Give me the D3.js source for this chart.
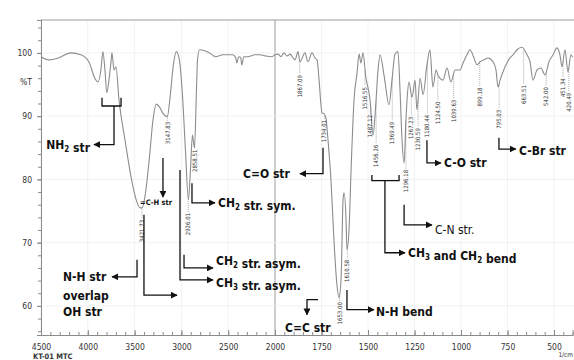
<!DOCTYPE html>
<html>
<head>
<meta charset="utf-8">
<script src="https://cdn.jsdelivr.net/npm/d3@7"></script>
<style>
body { margin: 0; background: #fff; }
svg { display: block; }
.axis path, .axis line { stroke: #8a8a8a; }
.axis text { font-family: 'Liberation Sans Narrow', 'DejaVu Sans Condensed', sans-serif; font-size: 8.5px; fill: #333; }
.note { font-family: 'Liberation Sans Narrow', 'DejaVu Sans Condensed', sans-serif; font-weight: bold; font-size: 12px; fill: #111; }
.peak { font-family: 'Liberation Sans Narrow', 'DejaVu Sans Condensed', sans-serif; font-size: 6px; fill: #333; }
</style>
</head>
<body>
<div id="chart"></div>
<script>
// spectrum (cm-1 / %T)
const wavenumbers = [
  4500, 4419, 4312, 4183, 4075, 3989, 3925, 3892, 3860, 3839,
  3817, 3797, 3774, 3750, 3742, 3720, 3699, 3667, 3602, 3538,
  3484, 3441, 3419, 3387, 3344, 3301, 3269, 3237, 3194, 3151,
  3118, 3086, 3054, 3022, 2989, 2957, 2925, 2903, 2882, 2860,
  2839, 2828, 2806, 2699, 2634, 2559, 2452, 2419, 2409, 2387,
  2366, 2355, 2333, 2290, 2215, 2161, 2097, 2032, 2000, 1984,
  1968, 1952, 1935, 1919, 1903, 1892, 1876, 1866, 1839, 1823,
  1801, 1785, 1774, 1763, 1753, 1747, 1737, 1726, 1715, 1699,
  1683, 1667, 1656, 1645, 1634, 1629, 1618, 1613, 1602, 1591,
  1575, 1559, 1548, 1538, 1527, 1511, 1500, 1489, 1473, 1462,
  1446, 1435, 1414, 1387, 1371, 1355, 1339, 1328, 1317, 1306,
  1296, 1290, 1280, 1263, 1247, 1237, 1220, 1204, 1183, 1167,
  1151, 1134, 1124, 1097, 1075, 1054, 1032, 1005, 989, 968,
  952, 930, 914, 898, 876, 855, 828, 812, 801, 790,
  763, 737, 720, 699, 672, 645, 629, 613, 591, 570,
  548, 527, 505, 484, 468, 457, 441, 425, 409, 400
];
const transmittance = [
  99.4, 98.9, 99.2, 100.0, 99.7, 98.6, 96.0, 95.4, 97.3, 100.2,
  97.3, 93.7, 95.7, 98.9, 100.0, 97.3, 97.8, 92.6, 86.2, 80.4,
  76.8, 75.5, 75.5, 77.5, 83.1, 89.7, 91.9, 91.5, 90.4, 89.9,
  93.4, 98.1, 100.2, 98.9, 93.4, 84.7, 76.8, 81.5, 87.0, 85.0,
  94.2, 98.9, 100.5, 100.0, 99.4, 99.7, 99.7, 99.2, 98.4, 99.4,
  99.2, 98.1, 99.4, 99.4, 99.7, 99.7, 99.5, 99.4, 99.7, 99.8,
  99.4, 100.0, 99.5, 99.8, 99.2, 98.9, 100.2, 98.6, 100.0, 98.6,
  100.0, 99.2, 98.9, 95.7, 91.8, 90.5, 90.4, 89.7, 86.2, 79.9,
  70.4, 63.3, 61.3, 64.1, 76.8, 77.9, 73.6, 68.9, 72.0, 81.5,
  92.6, 96.8, 99.8, 98.4, 100.0, 96.0, 94.5, 92.6, 87.0, 90.2,
  97.3, 99.7, 96.5, 91.8, 95.7, 99.8, 100.2, 94.2, 86.2, 82.6,
  89.4, 92.6, 95.4, 93.0, 95.7, 91.0, 96.0, 93.4, 98.1, 100.5,
  94.6, 97.3, 96.5, 95.7, 97.6, 95.4, 97.3, 97.3, 98.4, 99.7,
  100.5, 99.2, 98.1, 98.6, 98.9, 99.2, 98.6, 97.3, 94.6, 95.7,
  97.8, 99.2, 99.7, 100.5, 100.9, 99.7, 98.6, 95.7, 97.3, 97.6,
  96.5, 98.6, 99.7, 100.8, 99.7, 97.8, 100.5, 97.0, 99.7, 99.3
];

// peak picks and where their printed values start (%T)
const peakPositions = [3421.73, 3147.83, 2926.01, 2858.51, 1867.09, 1734.01, 1653.00, 1610.58,
  1516.55, 1487.12, 1456.26, 1369.49, 1296.18, 1267.23, 1230.59, 1180.44, 1124.50, 1039.63,
  899.18, 795.03, 663.51, 542.00, 451.34, 420.49];
const peakLabelTops = [73.6, 89.1, 74.7, 84.7, 96.5, 89.4, 60.6, 67.3,
  94.6, 90.2, 85.5, 89.1, 81.5, 89.9, 88.1, 90.2, 92.3, 92.6,
  94.5, 91.0, 94.9, 94.6, 96.0, 93.7];

const xMajorTicks = [4500, 4000, 3500, 3000, 2500, 2000, 1750, 1500, 1250, 1000, 750, 500];
const yMajorTicks = [100, 90, 80, 70, 60];

// band assignments: text anchor in (cm-1, %T)
const noteTexts = [
  { text: "NH_2 str", wn: 3976, t: 84.8, anchor: "end" },
  { text: "N-H str", wn: 4265, t: 64.0 },
  { text: "overlap", wn: 4265, t: 61.0 },
  { text: "OH str", wn: 4265, t: 58.4 },
  { text: "=C-H str", wn: 3442, t: 76.0, size: 7.5 },
  { text: "CH_2 str. sym.", wn: 2609, t: 75.7 },
  { text: "CH_2 str. asym.", wn: 2630, t: 66.5 },
  { text: "CH_3 str. asym.", wn: 2630, t: 63.0 },
  { text: "C=O str", wn: 2342, t: 80.2 },
  { text: "C=C str", wn: 1946, t: 55.9 },
  { text: "N-H bend", wn: 1457, t: 58.4 },
  { text: "CH_3 and CH_2 bend", wn: 1285, t: 67.7 },
  { text: "C-N str.", wn: 1140, t: 71.4, weight: "normal" },
  { text: "C-O str", wn: 1091, t: 82.0 },
  { text: "C-Br str", wn: 688, t: 83.9 }
];
const noteArrows = [
  [[3720, 91.6], [3720, 85.5], [3934, 85.5]],
  [[3197, 83.4], [3197, 77.2]],
  [[3474, 67.3], [3474, 64.6], [3741, 64.6]],
  [[3400, 74.4], [3400, 61.7], [3047, 61.7]],
  [[3015, 81.5], [3015, 64.1], [2662, 64.1]],
  [[2972, 68.1], [2972, 66.0], [2662, 66.0]],
  [[2887, 79.4], [2887, 76.3], [2641, 76.3]],
  [[1742, 85.0], [1742, 80.9], [1866, 80.9]],
  [[1769, 61.0], [1828, 61.0], [1828, 58.6]],
  [[1613, 62.5], [1613, 59.4], [1468, 59.4]],
  [[1409, 79.8], [1409, 68.4], [1301, 68.4]],
  [[1306, 76.0], [1306, 72.8], [1156, 72.8]],
  [[1183, 86.2], [1183, 82.6], [1108, 82.6]],
  [[796, 86.6], [796, 84.8], [705, 84.8]]
];
const noteBrackets = [
  [[3848, 92.9], [3848, 91.6], [3645, 91.6], [3645, 92.9]],
  [[1479, 80.7], [1479, 79.8], [1333, 79.8], [1333, 80.7]]
];

const W = 574, H = 360;
const plotLeft = 41, plotTop = 20, plotBottom = 335;

const svg = d3.select('#chart').append('svg')
    .attr('width', W)
    .attr('height', H);

// Shimadzu style: 2000 and below is drawn at double scale
const x = d3.scaleLinear()
    .domain([4500, 2000, 400])
    .range([plotLeft, 275, 572.6]);

const y = d3.scaleLinear()
    .domain([55.4, 105.2])
    .range([plotBottom, plotTop]);

// faint grid
svg.append('g')
    .selectAll('line')
    .data(xMajorTicks)
    .enter()
    .append('line')
    .attr('x1', d => x(d)).attr('x2', d => x(d))
    .attr('y1', plotTop).attr('y2', plotBottom)
    .attr('stroke', d => d === 2000 ? '#9a9a9a' : '#efefef')
    .attr('stroke-width', d => d === 2000 ? 1 : 0.8);

svg.append('g')
    .selectAll('line')
    .data(yMajorTicks)
    .enter()
    .append('line')
    .attr('x1', plotLeft).attr('x2', W)
    .attr('y1', d => y(d)).attr('y2', d => y(d))
    .attr('stroke', '#efefef')
    .attr('stroke-width', 0.8);

svg.append('line')
    .attr('x1', plotLeft).attr('x2', W)
    .attr('y1', plotTop).attr('y2', plotTop)
    .attr('stroke', '#9a9a9a');

// axes
const xMinor = d3.range(4500, 2000, -100).concat(d3.range(2000, 400, -50));
svg.append('g')
    .attr('class', 'axis')
    .attr('transform', `translate(0, ${plotBottom})`)
    .call(d3.axisBottom(x).tickValues(xMinor).tickSize(-3).tickFormat(''));

svg.append('g')
    .attr('class', 'axis')
    .attr('transform', `translate(0, ${plotBottom})`)
    .call(d3.axisBottom(x).tickValues(xMajorTicks).tickSize(-5).tickPadding(9).tickFormat(d3.format('d')));

svg.append('g')
    .attr('class', 'axis')
    .attr('transform', `translate(${plotLeft}, 0)`)
    .call(d3.axisLeft(y).tickValues(d3.range(56, 105, 2)).tickSize(3).tickFormat(''));

svg.append('g')
    .attr('class', 'axis')
    .attr('transform', `translate(${plotLeft}, 0)`)
    .call(d3.axisLeft(y).tickValues(yMajorTicks).tickSize(4).tickPadding(5).tickFormat(d3.format('d')));

svg.append('text')
    .attr('x', plotLeft - 9)
    .attr('y', y(95.0))
    .attr('text-anchor', 'end')
    .style('font-family', "'Liberation Sans Narrow', 'DejaVu Sans Condensed', sans-serif")
    .style('font-size', '8.5px')
    .style('fill', '#333')
    .text('%T');

svg.append('text')
    .attr('x', 573)
    .attr('y', 357)
    .attr('text-anchor', 'end')
    .style('font-family', "'Liberation Sans Narrow', 'DejaVu Sans Condensed', sans-serif")
    .style('font-size', '6.5px')
    .style('fill', '#333')
    .text('1/cm');

svg.append('text')
    .attr('x', 33)
    .attr('y', 359)
    .style('font-family', "'Liberation Sans Narrow', 'DejaVu Sans Condensed', sans-serif")
    .style('font-size', '7.5px')
    .style('font-weight', 'bold')
    .style('fill', '#333')
    .text('KT-01 MTC');

// spectrum
const spectrum = wavenumbers.map((w, i) => ({ wn: w, t: transmittance[i] }));

const line = d3.line()
    .x(d => x(d.wn))
    .y(d => y(d.t))
    .curve(d3.curveMonotoneX);

svg.append('path')
    .datum(spectrum)
    .attr('fill', 'none')
    .attr('stroke', '#8c8c8c')
    .attr('stroke-width', 1.1)
    .attr('d', line);

// %T of the trace at a wavenumber, for the leader lines
const curveAt = (wn) => {
    for (let i = 1; i < spectrum.length; i++) {
        const a = spectrum[i - 1], b = spectrum[i];
        if (wn <= a.wn && wn >= b.wn) {
            return a.t + (b.t - a.t) * (a.wn - wn) / (a.wn - b.wn);
        }
    }
    return 100;
};

const peaks = peakPositions.map((p, i) => ({ wn: p, top: peakLabelTops[i] }));

svg.append('g')
    .selectAll('line')
    .data(peaks.filter(p => y(p.top) - y(curveAt(p.wn)) > 3))
    .enter()
    .append('line')
    .attr('x1', d => x(d.wn)).attr('x2', d => x(d.wn))
    .attr('y1', d => y(curveAt(d.wn)) + 1)
    .attr('y2', d => y(d.top) - 1)
    .attr('stroke', '#777')
    .attr('stroke-width', 0.6)
    .attr('stroke-dasharray', '1,1');

svg.append('g')
    .selectAll('text')
    .data(peaks)
    .enter()
    .append('text')
    .attr('class', 'peak')
    .attr('transform', d => `translate(${x(d.wn) + 2}, ${y(d.top)}) rotate(-90)`)
    .attr('text-anchor', 'end')
    .text(d => d3.format('.2f')(d.wn));

// arrows and brackets
svg.append('defs').append('marker')
    .attr('id', 'head')
    .attr('viewBox', '0 0 10 10')
    .attr('refX', 9).attr('refY', 5)
    .attr('markerWidth', 7).attr('markerHeight', 7)
    .attr('markerUnits', 'userSpaceOnUse')
    .attr('orient', 'auto')
    .append('path')
    .attr('d', 'M0,0 L10,5 L0,10 z')
    .attr('fill', '#111');

const path = d3.line().x(d => x(d[0])).y(d => y(d[1]));

svg.append('g')
    .selectAll('path')
    .data(noteArrows)
    .enter()
    .append('path')
    .attr('d', path)
    .attr('fill', 'none')
    .attr('stroke', '#111')
    .attr('stroke-width', 1.3)
    .attr('marker-end', 'url(#head)');

svg.append('g')
    .selectAll('path')
    .data(noteBrackets)
    .enter()
    .append('path')
    .attr('d', path)
    .attr('fill', 'none')
    .attr('stroke', '#111')
    .attr('stroke-width', 1.3);

// labels, "_2" becomes a subscript
const notes = svg.append('g')
    .selectAll('text')
    .data(noteTexts)
    .enter()
    .append('text')
    .attr('class', 'note')
    .attr('x', d => x(d.wn))
    .attr('y', d => y(d.t))
    .attr('text-anchor', d => d.anchor || 'start')
    .style('font-size', d => (d.size || 12) + 'px')
    .style('font-weight', d => d.weight || 'bold');

notes.each(function (d) {
    const el = d3.select(this);
    d.text.split(/(_\d)/).filter(s => s).forEach(part => {
        if (part[0] === '_') {
            el.append('tspan')
                .attr('dy', 3)
                .style('font-size', '8px')
                .text(part.slice(1));
            el.append('tspan').attr('dy', -3).text('');
        } else {
            el.append('tspan').text(part);
        }
    });
});
</script>
</body>
</html>
